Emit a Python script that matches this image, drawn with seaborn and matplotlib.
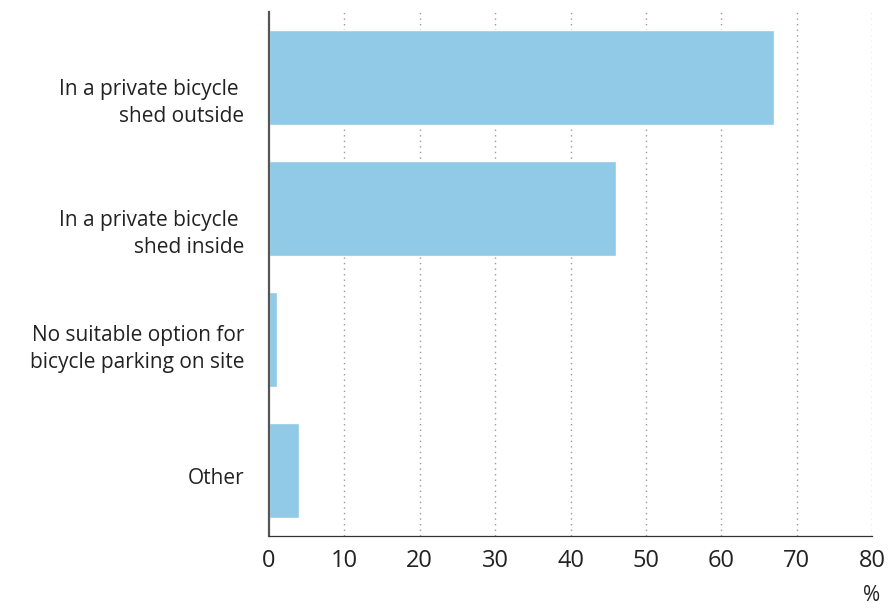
import pandas as pd
import matplotlib.pyplot as plt
import matplotlib.transforms as mtransforms
import seaborn as sns

sns.set_theme(style="white")
plt.rcParams['font.family'] = ['Open Sans', 'DejaVu Sans']

# Data
categories = [
    "In a private bicycle \nshed outside",
    "In a private bicycle \nshed inside",
    "No suitable option for\nbicycle parking on site",
    "Other",
]
values = [67, 46, 1, 4]
ticks = [0, 10, 20, 30, 40, 50, 60, 70, 80]

df = pd.DataFrame({"category": categories, "pct": values})

fig = plt.figure(figsize=(8.88, 6.08), dpi=100)
ax = fig.add_axes([0.303, 0.118, 0.679, 0.862])

sns.barplot(data=df, x="pct", y="category", color="#90CAE6", saturation=1,
            width=0.725, ax=ax, orient="h")

ax.set_xlim(0, 80)
ax.set_ylim(3.5, -0.5)
ax.set_xticks(ticks)
ax.set_xlabel("")
ax.set_ylabel("")

# dotted vertical grid
for t in ticks[1:]:
    ax.axvline(t, color="#9a9a9a", linestyle=(0, (1, 3)), linewidth=1, zorder=0)

for s in ["top", "right"]:
    ax.spines[s].set_visible(False)
ax.spines["left"].set_color("#555555")
ax.spines["left"].set_linewidth(1.6)
ax.spines["bottom"].set_color("#333333")
ax.spines["bottom"].set_linewidth(0.9)

ax.tick_params(axis="x", length=0, pad=9, labelsize=17, labelcolor="#222222")
ax.tick_params(axis="y", length=0, pad=18, labelsize=15, labelcolor="#222222")

# labels sit slightly below bar centres, as in the original layout
label_shift_px = [20, 20, 4, 5]
for lbl, dy in zip(ax.get_yticklabels(), label_shift_px):
    lbl.set_horizontalalignment("right")
    lbl.set_multialignment("right")
    lbl.set_linespacing(1.35)
    lbl.set_transform(lbl.get_transform() +
                      mtransforms.ScaledTranslation(0, -dy / 100, fig.dpi_scale_trans))

ax.annotate("%", xy=(80, 0), xycoords=("data", "axes fraction"),
            xytext=(0, -43), textcoords="offset points",
            ha="center", va="center", fontsize=15, color="#222222")

fig.savefig("out.png", dpi=100)
